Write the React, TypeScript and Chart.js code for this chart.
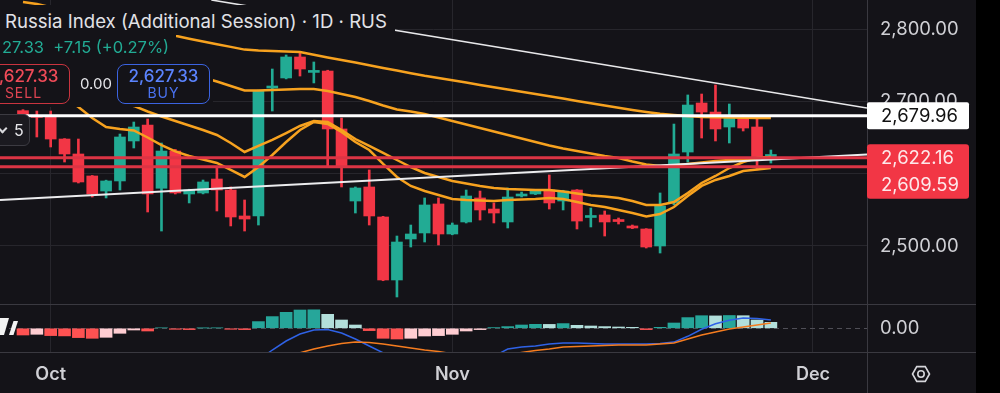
import React, { useEffect, useRef } from 'react';
import { Chart, registerables } from 'chart.js';

Chart.register(...registerables);

// ---- Candles (one per trading day, index 0..54) ----
const opens = [2687.1,2679.0,2678.3,2647.9,2627.2,2596.8,2576.0,2589.9,2645.2,2667.3,2579.8,2631.3,2571.9,2573.3,2592.6,2577.4,2541.5,2541.5,2718.4,2732.3,2761.3,2740.0,2741.9,2661.8,2562.2,2581.6,2540.1,2453.0,2509.7,2518.0,2558.1,2516.6,2533.2,2566.4,2551.1,2533.2,2569.1,2571.9,2577.4,2562.2,2577.4,2539.4,2542.9,2535.2,2527.7,2523.5,2500.0,2559.5,2629.9,2697.7,2685.2,2664.5,2679.7,2664.5,2620.2];
const highs = [2688.5,2686.6,2686.6,2648.5,2647.9,2597.5,2591.0,2654.8,2671.4,2675.6,2642.4,2633.5,2578.5,2591.2,2607.8,2581.6,2563.6,2715.5,2744.7,2764.1,2766.8,2754.4,2743.0,2676.9,2581.6,2605.1,2541.0,2513.8,2529.0,2566.4,2566.4,2531.8,2577.4,2576.0,2559.5,2580.2,2574.6,2578.0,2598.2,2577.0,2578.0,2552.5,2548.4,2538.7,2529.0,2524.0,2573.3,2668.6,2708.8,2710.1,2722.6,2696.3,2681.0,2675.6,2632.7];
const lows = [2678.5,2650.7,2636.9,2616.1,2587.1,2567.7,2566.4,2577.4,2635.5,2547.0,2520.7,2571.9,2559.5,2572.0,2548.4,2527.7,2520.7,2529.0,2686.6,2731.0,2735.0,2725.4,2609.2,2581.6,2545.6,2529.0,2452.0,2429.5,2498.6,2505.5,2501.4,2515.5,2531.8,2535.9,2531.8,2524.9,2567.7,2571.0,2551.1,2549.8,2523.5,2526.3,2513.8,2530.4,2524.0,2497.2,2490.3,2557.0,2616.1,2649.3,2645.2,2642.4,2659.0,2605.1,2614.7];
const closes = [2679.7,2677.8,2647.9,2627.2,2588.5,2571.9,2589.9,2650.7,2664.5,2571.9,2631.3,2573.3,2577.4,2588.5,2577.4,2540.1,2537.3,2714.3,2721.2,2761.3,2744.7,2741.5,2661.8,2609.2,2580.2,2541.5,2453.0,2505.5,2516.6,2556.7,2516.6,2529.0,2569.1,2549.8,2545.6,2567.7,2571.9,2576.0,2559.5,2576.0,2534.5,2540.8,2533.2,2533.8,2524.9,2498.6,2555.3,2627.2,2694.9,2685.2,2661.8,2679.7,2663.1,2620.2,2626.5];

// ---- Moving averages (orange) ----
const maSlow = [2837.3,2834.6,2830.1,2825.7,2821.6,2817.1,2812.6,2808.2,2803.7,2799.2,2794.8,2790.6,2786.6,2782.7,2779.0,2775.3,2771.5,2770.3,2769.6,2768.9,2768.2,2764.5,2760.7,2757.2,2753.6,2750.0,2746.2,2742.5,2738.8,2735.3,2732.3,2729.1,2725.9,2722.7,2719.6,2716.4,2713.2,2710.1,2707.0,2703.8,2700.6,2697.4,2694.3,2691.1,2688.0,2685.3,2682.9,2681.1,2679.7,2678.4,2677.9,2677.7,2677.4,2677.1,2677.0];
const maMid = [2805.5,2798.6,2791.7,2784.8,2779.3,2772.4,2766.8,2761.3,2755.8,2750.2,2744.7,2740.6,2735.7,2733.0,2727.4,2721.2,2715.0,2715.0,2715.7,2716.4,2717.1,2717.1,2714.3,2710.1,2706.0,2700.5,2694.3,2688.7,2686.0,2682.5,2677.7,2672.8,2668.0,2663.1,2658.3,2653.5,2648.6,2643.8,2639.0,2634.8,2631.3,2627.9,2624.4,2621.7,2616.8,2612.7,2610.6,2611.3,2613.4,2615.4,2617.5,2618.9,2620.3,2621.7,2623.1];
const maFast = [2744.7,2737.8,2730.9,2724.0,2718.4,2711.5,2706.0,2699.1,2693.6,2686.0,2679.0,2672.8,2666.6,2660.4,2653.5,2642.4,2630.0,2638.3,2646.6,2656.2,2665.9,2672.8,2671.4,2660.4,2647.9,2638.3,2628.6,2618.9,2609.2,2600.9,2595.4,2589.9,2586.4,2583.0,2580.2,2578.8,2578.1,2577.4,2577.4,2575.4,2572.6,2569.8,2568.4,2566.4,2562.2,2556.7,2556.7,2560.8,2573.3,2587.1,2596.8,2607.8,2616.1,2621.7,2623.1];
const maFaster = [2743.3,2732.3,2718.4,2704.6,2692.2,2677.0,2664.5,2661.8,2659.7,2650.0,2639.6,2630.7,2624.4,2619.6,2614.8,2605.1,2595.4,2609.2,2625.8,2643.8,2660.4,2671.4,2668.7,2657.6,2643.8,2632.7,2613.4,2595.4,2583.0,2576.0,2570.5,2565.0,2563.6,2562.9,2562.2,2563.6,2564.3,2565.0,2566.4,2565.0,2560.8,2556.7,2553.9,2549.8,2545.6,2540.8,2544.2,2553.9,2569.1,2583.0,2591.3,2596.8,2603.7,2605.8,2607.8];

// ---- MACD ----
const macdHist = [-6.7,-6.0,-7.3,-7.6,-9.3,-10.0,-9.0,-5.0,-1.7,-2.7,0.5,-1.0,-1.3,0.3,0.4,-1.0,-1.3,6.7,11.7,16.0,18.3,18.5,14.0,8.3,3.3,-2.3,-10.0,-10.7,-10.0,-7.7,-7.3,-6.0,-2.7,-1.3,0.7,1.7,3.3,4.0,3.9,4.7,3.0,2.3,1.7,1.3,1.0,-1.3,1.0,5.3,10.7,12.6,12.4,12.8,12.6,8.3,6.0];
const macdLine = [-30,-33,-37,-41,-45,-49,-50,-47,-44,-46,-44,-45,-45,-44,-45,-47,-48,-32,-21.7,-12.7,-5.7,-1.7,-1.2,-4.7,-10.7,-17.7,-24.5,-32,-38,-40,-42,-41,-38,-35,-28,-20.7,-18.7,-17.7,-15.7,-14.7,-14.7,-15.2,-15.7,-15.7,-15.7,-15.7,-15.2,-13.8,-8.0,-1.0,4.5,8.0,10.3,9.8,8.3];
const macdSignal = [-45,-44,-43,-43,-43,-44,-45,-45,-45,-45,-45,-45,-45,-45,-45,-45,-45,-40,-34,-29,-24.5,-20.7,-17.7,-15.2,-13.7,-14.2,-15.7,-17.7,-19.7,-21.7,-23.2,-25.5,-27,-28,-27.5,-26.5,-24.2,-22.2,-20.7,-18.7,-18.2,-17.7,-17.2,-16.7,-16.7,-16.7,-15.7,-14.7,-10.7,-6.7,-3.7,-0.7,1.3,3.3,5.3];

// ---- Axes / levels ----
const xMin = -1.66;
const xMax = 60.94;
const monthTickPos = [2, 31, 57.04];
const monthLabels = ['Oct', 'Nov', 'Dec'];
const priceTicks = [2500, 2600, 2700, 2800];
const priceMin = 2419.8;
const priceMax = 2840.1;
const macdMin = -23.7;
const macdMax = 24.3;
const levelWhite = 2679.96;
const levelsRed = [2622.16, 2609.59];
const trendDownX = [13.6, 60.94];
const trendDownY = [2840.1, 2690.8];
const trendUpX = [-1.66, 60.94];
const trendUpY = [2563.6, 2626.5];

const BG = '#141318';
const GRID = '#27262c';
const SEP = '#3a3940';
const AXIS_TEXT = '#d0d0d5';
const GREEN = '#22ab94';
const RED = '#f23645';
const ORANGE = '#f7a21f';
const FONT = 'Inter, "Noto Sans", sans-serif';

const fmt = (v: number) =>
  v.toLocaleString('en-US', { minimumFractionDigits: 2, maximumFractionDigits: 2 });

const noPad = (s: any) => {
  s.paddingTop = 0;
  s.paddingBottom = 0;
  s.paddingLeft = 0;
  s.paddingRight = 0;
};

function makeX(showLabels: boolean): any {
  return {
    type: 'linear',
    min: xMin,
    max: xMax,
    offset: false,
    afterBuildTicks: (s: any) => {
      s.ticks = monthTickPos.map((v) => ({ value: v }));
    },
    afterFit: (s: any) => {
      s.height = showLabels ? 41 : 0;
      noPad(s);
    },
    grid: { color: GRID, drawTicks: false, offset: false, lineWidth: 1 },
    border: { display: false },
    ticks: {
      display: showLabels,
      autoSkip: false,
      maxRotation: 0,
      padding: 12,
      color: AXIS_TEXT,
      font: { family: FONT, size: 18, weight: 600 },
      callback: (_v: any, i: number) => monthLabels[i] ?? '',
    },
  };
}

export default function App() {
  const c1 = useRef<HTMLCanvasElement>(null);
  const c2 = useRef<HTMLCanvasElement>(null);

  useEffect(() => {
    document.body.style.margin = '0';
    document.body.style.background = '#000';
    const idx = opens.map((_, i) => i);
    const candleColors = idx.map((i) => (closes[i] >= opens[i] ? GREEN : RED));
    const histColors = macdHist.map((v, i) => {
      const prev = i > 0 ? macdHist[i - 1] : v + 1;
      if (v >= 0) return v >= prev ? '#26a69a' : '#b2dfdb';
      return v < prev ? '#ff5252' : '#ffcdd2';
    });

    const maLine = (arr: number[]) => ({
      type: 'line',
      data: idx.map((i) => ({ x: i, y: arr[i] })),
      borderColor: ORANGE,
      borderWidth: 2.5,
      pointRadius: 0,
      tension: 0,
      order: 5,
    });

    const overlay1 = {
      id: 'overlay1',
      afterDatasetsDraw(chart: any) {
        const { ctx, chartArea, scales } = chart;
        const y = scales.y;
        ctx.save();
        ctx.beginPath();
        ctx.rect(chartArea.left, chartArea.top, chartArea.right - chartArea.left, chartArea.bottom - chartArea.top);
        ctx.clip();
        ctx.lineWidth = 3;
        ctx.strokeStyle = '#dc3444';
        levelsRed.forEach((v) => {
          const py = y.getPixelForValue(v);
          ctx.beginPath();
          ctx.moveTo(chartArea.left, py);
          ctx.lineTo(chartArea.right, py);
          ctx.stroke();
        });
        const wy = y.getPixelForValue(levelWhite);
        ctx.strokeStyle = '#ffffff';
        ctx.beginPath();
        ctx.moveTo(chartArea.left, wy);
        ctx.lineTo(chartArea.right, wy);
        ctx.stroke();
        ctx.restore();
      },
      afterDraw(chart: any) {
        const { ctx, chartArea, scales } = chart;
        const y = scales.y;
        const x0 = chartArea.right;
        const w = 102;
        ctx.save();
        ctx.font = `18.5px ${FONT}`;
        ctx.textBaseline = 'middle';
        ctx.textAlign = 'left';
        const wy = y.getPixelForValue(levelWhite);
        ctx.fillStyle = '#ffffff';
        ctx.beginPath();
        ctx.roundRect(x0, wy - 13.5, w, 27, 2);
        ctx.fill();
        ctx.fillStyle = '#111111';
        ctx.fillText(fmt(levelWhite), x0 + 14, wy + 1);
        const r1 = y.getPixelForValue(levelsRed[0]);
        const r2 = Math.max(y.getPixelForValue(levelsRed[1]), r1 + 26.5);
        ctx.fillStyle = RED;
        ctx.beginPath();
        ctx.roundRect(x0, r1 - 13.5, w, r2 - r1 + 28, 3);
        ctx.fill();
        ctx.fillStyle = '#fde8ea';
        ctx.fillText(fmt(levelsRed[0]), x0 + 14, r1 + 1);
        ctx.fillText(fmt(levelsRed[1]), x0 + 14, r2 + 1);
        ctx.restore();
      },
    };

    const ch1 = new Chart(c1.current as HTMLCanvasElement, {
      type: 'bar',
      data: {
        datasets: [
          {
            type: 'bar',
            data: idx.map((i) => ({ x: i, y: [lows[i], highs[i]] })),
            backgroundColor: candleColors,
            barThickness: 2,
            grouped: false,
            order: 10,
          },
          {
            type: 'bar',
            data: idx.map((i) => ({ x: i, y: [opens[i], closes[i]] })),
            backgroundColor: candleColors,
            barThickness: 11,
            minBarLength: 2,
            grouped: false,
            order: 9,
          },
          maLine(maSlow),
          maLine(maMid),
          maLine(maFast),
          maLine(maFaster),
          {
            type: 'line',
            data: trendDownX.map((x, i) => ({ x, y: trendDownY[i] })),
            borderColor: '#e8e8ea',
            borderWidth: 1.6,
            pointRadius: 0,
            order: 1,
          },
          {
            type: 'line',
            data: trendUpX.map((x, i) => ({ x, y: trendUpY[i] })),
            borderColor: '#ececee',
            borderWidth: 1.8,
            pointRadius: 0,
            order: 1,
          },
        ] as any,
      },
      options: {
        responsive: false,
        animation: false,
        devicePixelRatio: 1,
        layout: { padding: 0 },
        plugins: { legend: { display: false }, tooltip: { enabled: false } },
        scales: {
          x: makeX(false),
          y: {
            type: 'linear',
            position: 'right',
            min: priceMin,
            max: priceMax,
            afterBuildTicks: (s: any) => {
              s.ticks = priceTicks.map((v) => ({ value: v }));
            },
            afterFit: (s: any) => {
              s.width = 109;
              noPad(s);
            },
            grid: { color: GRID, drawTicks: false },
            border: { color: SEP },
            ticks: {
              padding: 13,
              color: AXIS_TEXT,
              font: { family: FONT, size: 18.5 },
              callback: (v: any) => fmt(Number(v)),
            },
          },
        } as any,
      },
      plugins: [overlay1],
    } as any);

    const overlay2 = {
      id: 'overlay2',
      beforeDatasetsDraw(chart: any) {
        const { ctx, chartArea, scales } = chart;
        const py = Math.round(scales.y.getPixelForValue(0)) + 0.5;
        ctx.save();
        ctx.strokeStyle = '#4f4e56';
        ctx.lineWidth = 1;
        ctx.setLineDash([5, 4]);
        ctx.beginPath();
        ctx.moveTo(chartArea.left, py);
        ctx.lineTo(chartArea.right, py);
        ctx.stroke();
        ctx.restore();
      },
      afterDraw(chart: any) {
        const { ctx, chartArea, width, height } = chart;
        ctx.save();
        ctx.strokeStyle = SEP;
        ctx.lineWidth = 1;
        ctx.beginPath();
        ctx.moveTo(0, 0.5);
        ctx.lineTo(width, 0.5);
        ctx.moveTo(0, chartArea.bottom + 0.5);
        ctx.lineTo(width, chartArea.bottom + 0.5);
        ctx.moveTo(chartArea.right + 0.5, chartArea.bottom);
        ctx.lineTo(chartArea.right + 0.5, height);
        ctx.stroke();
        // settings icon (hexagon + circle)
        const cx = 921;
        const cy = 70;
        ctx.strokeStyle = '#d5d5da';
        ctx.lineWidth = 1.6;
        ctx.beginPath();
        for (let k = 0; k < 6; k++) {
          const a = (Math.PI / 3) * k;
          const px = cx + 8.5 * Math.cos(a);
          const pyy = cy + 8.5 * Math.sin(a);
          if (k === 0) ctx.moveTo(px, pyy);
          else ctx.lineTo(px, pyy);
        }
        ctx.closePath();
        ctx.stroke();
        ctx.beginPath();
        ctx.arc(cx, cy, 3.2, 0, Math.PI * 2);
        ctx.stroke();
        // cropped logo marks
        ctx.fillStyle = '#f2f2f2';
        ctx.beginPath();
        ctx.moveTo(0, 14);
        ctx.lineTo(9, 14);
        ctx.lineTo(4, 31);
        ctx.lineTo(0, 31);
        ctx.closePath();
        ctx.fill();
        ctx.beginPath();
        ctx.moveTo(9, 31);
        ctx.lineTo(13.5, 31);
        ctx.lineTo(18, 17);
        ctx.lineTo(13.5, 17);
        ctx.closePath();
        ctx.fill();
        ctx.restore();
      },
    };

    const ch2 = new Chart(c2.current as HTMLCanvasElement, {
      type: 'bar',
      data: {
        datasets: [
          {
            type: 'bar',
            data: idx.map((i) => ({ x: i, y: macdHist[i] })),
            backgroundColor: histColors,
            barThickness: 12,
            grouped: false,
            order: 5,
          },
          {
            type: 'line',
            data: idx.map((i) => ({ x: i, y: macdLine[i] })),
            borderColor: '#2f62e6',
            borderWidth: 1.5,
            pointRadius: 0,
            order: 2,
          },
          {
            type: 'line',
            data: idx.map((i) => ({ x: i, y: macdSignal[i] })),
            borderColor: '#f57c1f',
            borderWidth: 1.5,
            pointRadius: 0,
            order: 1,
          },
        ] as any,
      },
      options: {
        responsive: false,
        animation: false,
        devicePixelRatio: 1,
        layout: { padding: 0 },
        plugins: { legend: { display: false }, tooltip: { enabled: false } },
        scales: {
          x: makeX(true),
          y: {
            type: 'linear',
            position: 'right',
            min: macdMin,
            max: macdMax,
            afterBuildTicks: (s: any) => {
              s.ticks = [{ value: 0 }];
            },
            afterFit: (s: any) => {
              s.width = 109;
              noPad(s);
            },
            grid: { color: 'rgba(0,0,0,0)', drawTicks: false },
            border: { color: SEP },
            ticks: {
              padding: 13,
              color: AXIS_TEXT,
              font: { family: FONT, size: 18.5 },
              callback: (v: any) => fmt(Number(v)),
            },
          },
        } as any,
      },
      plugins: [overlay2],
    } as any);

    return () => {
      ch1.destroy();
      ch2.destroy();
    };
  }, []);

  const abs = (s: any) => ({ position: 'absolute', ...s }) as React.CSSProperties;

  return (
    <div style={{ position: 'relative', width: 1000, height: 393, background: '#000', overflow: 'hidden', fontFamily: FONT }}>
      <div style={abs({ left: 0, top: 0, width: 976, height: 393, background: BG })} />
      <canvas ref={c1} width={976} height={304} style={abs({ left: 0, top: 0 })} />
      <canvas ref={c2} width={976} height={89} style={abs({ left: 0, top: 304 })} />

      {/* legend backgrounds */}
      <div style={abs({ left: 0, top: 5, width: 395, height: 30, background: BG })} />
      <div style={abs({ left: 0, top: 35, width: 176, height: 25, background: BG })} />
      <div style={abs({ left: 0, top: 60, width: 213, height: 47, background: BG })} />

      <div style={abs({ left: 5, top: 7, fontSize: 18.6, lineHeight: '28px', color: '#e2e2e7', whiteSpace: 'nowrap' })}>
        Russia Index (Additional Session) · 1D · RUS
      </div>
      <div style={abs({ left: 2, top: 35, fontSize: 16.5, lineHeight: '25px', color: GREEN, whiteSpace: 'nowrap' })}>
        27.33&nbsp; +7.15 (+0.27%)
      </div>

      <div style={abs({ left: -23, top: 64, width: 93, height: 40, boxSizing: 'border-box', border: '1.5px solid #c9343f', borderRadius: 8, textAlign: 'center' })}>
        <div style={{ fontSize: 17, lineHeight: '18px', marginTop: 2, color: '#f04b58', fontWeight: 500 }}>2,627.33</div>
        <div style={{ fontSize: 14, lineHeight: '16px', marginTop: 0, color: '#e04452', letterSpacing: 1 }}>SELL</div>
      </div>
      <div style={abs({ left: 80, top: 75, fontSize: 15, lineHeight: '18px', color: '#e6e6ea' })}>0.00</div>
      <div style={abs({ left: 117, top: 64, width: 93, height: 40, boxSizing: 'border-box', border: '1.5px solid #3b63e0', borderRadius: 8, textAlign: 'center' })}>
        <div style={{ fontSize: 17, lineHeight: '18px', marginTop: 2, color: '#5b84ff', fontWeight: 500 }}>2,627.33</div>
        <div style={{ fontSize: 14, lineHeight: '16px', marginTop: 0, color: '#4a72f0', letterSpacing: 1 }}>BUY</div>
      </div>

      <div style={abs({ left: -30, top: 114, width: 60, height: 32, boxSizing: 'border-box', border: '1px solid #3c3b42', borderRadius: 6, background: '#1b1a20' })} />
      <div style={abs({ left: -1, top: 125, width: 5, height: 5, borderRight: '2px solid #d8d8dc', borderBottom: '2px solid #d8d8dc', transform: 'rotate(45deg)' })} />
      <div style={abs({ left: 14, top: 120, fontSize: 16, lineHeight: '20px', color: '#e6e6ea' })}>5</div>
    </div>
  );
}
